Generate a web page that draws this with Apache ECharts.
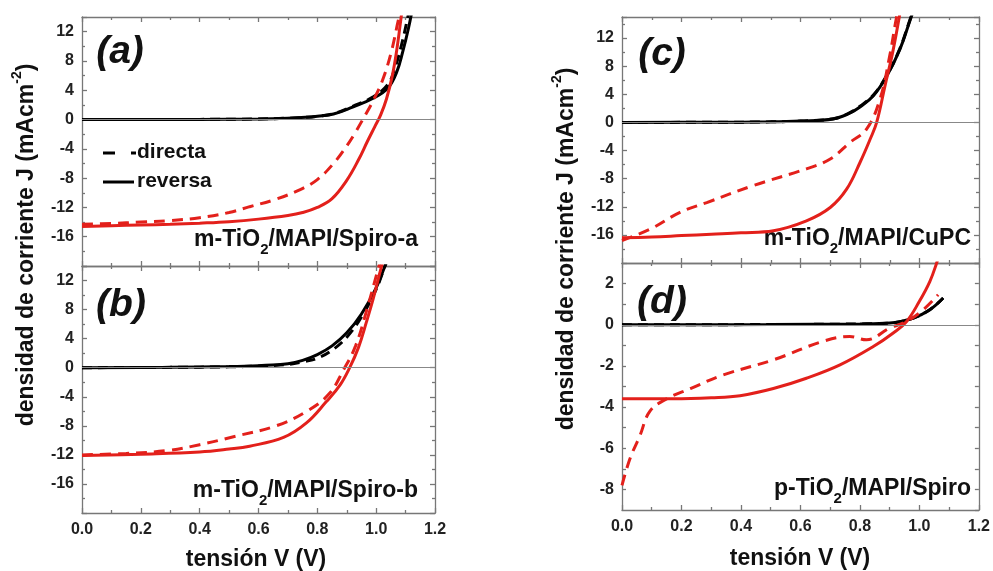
<!DOCTYPE html>
<html>
<head>
<meta charset="utf-8">
<title>Curvas J-V</title>
<script src="https://cdn.jsdelivr.net/npm/echarts@6.0.0/dist/echarts.min.js"></script>
<style>
  html, body { margin: 0; padding: 0; background: #fff; }
  #chart { width: 993px; height: 571px; }
</style>
</head>
<body>
<div id="chart"></div>
<script>
// tensión V (V) vs densidad de corriente J (mA/cm2)
// (a) m-TiO2/MAPI/Spiro-a
const aBlkRev = [[0,0],[0.4,0.02],[0.6,0.08],[0.7,0.18],[0.76,0.3],[0.8,0.45],[0.855,0.75],[0.92,1.7],[0.99,2.9],[1.04,4.3],[1.07,6.5],[1.09,9.2],[1.11,12.5],[1.125,15.5]];
const aBlkFwd = [[0,0],[0.4,0.02],[0.6,0.08],[0.7,0.18],[0.76,0.3],[0.8,0.45],[0.855,0.8],[0.92,1.8],[0.99,3.1],[1.04,4.8],[1.065,7.2],[1.085,10],[1.105,13.5],[1.115,15.5]];
const aRedFwd = [[0,-14.3],[0.1,-14.2],[0.2,-14.0],[0.3,-13.8],[0.4,-13.4],[0.5,-12.7],[0.57,-11.9],[0.65,-11.0],[0.74,-9.6],[0.8,-8.2],[0.855,-6.0],[0.9,-3.6],[0.93,-1.7],[0.96,0.4],[0.99,2.6],[1.02,5.2],[1.05,9],[1.075,13.5],[1.09,16]];
const aRedRev = [[0,-14.6],[0.1,-14.5],[0.2,-14.4],[0.3,-14.3],[0.4,-14.15],[0.5,-13.95],[0.6,-13.6],[0.7,-13.1],[0.75,-12.7],[0.8,-12.0],[0.85,-10.8],[0.9,-8.3],[0.94,-5.5],[0.97,-3.0],[0.995,-1.0],[1.015,0.6],[1.035,2.8],[1.055,6.0],[1.07,9.5],[1.085,14],[1.095,17]];

// (b) m-TiO2/MAPI/Spiro-b
const bBlkRev = [[0,0],[0.3,0.05],[0.5,0.15],[0.6,0.28],[0.7,0.55],[0.75,1.0],[0.8,1.8],[0.85,3.0],[0.9,4.8],[0.95,7.4],[1.0,11.0],[1.03,14],[1.05,16]];
const bBlkFwd = [[0,0],[0.3,0.05],[0.5,0.12],[0.6,0.22],[0.7,0.45],[0.75,0.8],[0.8,1.3],[0.85,2.4],[0.9,4.2],[0.95,7.0],[1.0,10.8],[1.03,14],[1.05,16]];
const bRedFwd = [[0,-12.0],[0.15,-11.8],[0.29,-11.4],[0.4,-10.6],[0.515,-9.5],[0.66,-8.0],[0.764,-6.0],[0.84,-3.6],[0.889,-0.3],[0.93,3.0],[0.967,7.8],[1.0,12.6],[1.02,15.5]];
const bRedRev = [[0,-12.1],[0.2,-11.9],[0.4,-11.6],[0.5,-11.2],[0.57,-10.8],[0.685,-9.6],[0.763,-7.6],[0.83,-4.7],[0.877,-2.4],[0.91,0],[0.94,2.8],[0.967,6.3],[0.99,9.5],[1.018,13.9],[1.03,15.5]];

// (c) m-TiO2/MAPI/CuPC
const cBlkRev = [[0,0],[0.3,0.02],[0.5,0.08],[0.6,0.2],[0.71,0.5],[0.76,1.2],[0.8,2.2],[0.845,3.8],[0.89,6.6],[0.934,10.4],[0.968,14.5],[0.98,16]];
const cBlkFwd = [[0,0],[0.3,0.02],[0.5,0.08],[0.6,0.2],[0.71,0.52],[0.76,1.25],[0.8,2.3],[0.845,3.9],[0.89,6.7],[0.934,10.5],[0.968,14.6],[0.98,16]];
const cRedFwd = [[0,-16.8],[0.094,-15.2],[0.195,-12.8],[0.285,-11.4],[0.44,-9.0],[0.62,-6.6],[0.70,-5.2],[0.766,-2.85],[0.822,-0.95],[0.867,3.3],[0.90,9.5],[0.923,15],[0.93,16]];
const cRedRev = [[0,-16.4],[0.1,-16.3],[0.2,-16.1],[0.3,-15.9],[0.4,-15.7],[0.509,-15.4],[0.62,-14.0],[0.7,-12.1],[0.755,-9.5],[0.8,-5.7],[0.834,-2.4],[0.856,0],[0.884,5.2],[0.91,10],[0.934,15.5]];

// (d) p-TiO2/MAPI/Spiro
const dBlkRev = [[0,0],[0.5,0.01],[0.8,0.04],[0.9,0.08],[0.98,0.33],[1.035,0.73],[1.08,1.3]];
const dBlkFwd = [[0,0],[0.5,0.01],[0.8,0.04],[0.9,0.08],[0.98,0.33],[1.035,0.73],[1.08,1.3]];
const dRedFwd = [[0,-7.8],[0.027,-6.5],[0.06,-5.4],[0.094,-4.2],[0.15,-3.6],[0.23,-3.1],[0.34,-2.44],[0.51,-1.7],[0.677,-0.8],[0.766,-0.57],[0.822,-0.73],[0.9,-0.16],[0.957,0.16],[1.013,0.73],[1.063,1.46]];
const dRedRev = [[0,-3.6],[0.173,-3.6],[0.3,-3.55],[0.397,-3.45],[0.509,-3.1],[0.62,-2.6],[0.733,-1.95],[0.845,-1.06],[0.912,-0.4],[0.957,0.16],[1.0,1.14],[1.035,2.1],[1.058,3.0],[1.07,3.6]];

const panelLabels = ['(a)', '(b)', '(c)', '(d)'];
const sampleNames = ['Spiro-a', 'Spiro-b', 'CuPC', 'Spiro'];
const legendNames = ['directa', 'reversa'];

const RED = '#e3201b';
const FONT = 'Liberation Sans, Arial, sans-serif';
const AXIS_COLOR = '#777';

const panels = [
  { grid: { left: 82, top: 17, width: 353, height: 249 }, yMin: -20, yMax: 14, yInt: 4, xLabels: false,
    data: [aBlkRev, aBlkFwd, aRedFwd, aRedRev] },
  { grid: { left: 82, top: 266, width: 353, height: 247 }, yMin: -20, yMax: 14, yInt: 4, xLabels: true,
    data: [bBlkRev, bBlkFwd, bRedFwd, bRedRev] },
  { grid: { left: 622, top: 17, width: 357, height: 246 }, yMin: -20, yMax: 15, yInt: 4, xLabels: false,
    data: [cBlkRev, cBlkFwd, cRedFwd, cRedRev] },
  { grid: { left: 622, top: 263, width: 357, height: 247 }, yMin: -9, yMax: 3, yInt: 1, xLabels: true,
    data: [dBlkRev, dBlkFwd, dRedFwd, dRedRev] }
];

const lineStyleAxis = { color: AXIS_COLOR, width: 1.3 };
const labelStyle = { color: '#222', fontSize: 16, fontWeight: 'bold', fontFamily: FONT };

let grids = [], xAxes = [], yAxes = [], series = [];

panels.forEach(function (p, i) {
  grids.push(p.grid);
  ['bottom', 'top'].forEach(function (pos) {
    xAxes.push({
      gridIndex: i, type: 'value', position: pos, min: 0, max: 1.2, interval: 0.2,
      axisLine: { show: true, onZero: false, lineStyle: lineStyleAxis },
      axisTick: { show: true, inside: true, length: 5, lineStyle: lineStyleAxis },
      minorTick: { show: true, splitNumber: 2, length: 3, lineStyle: lineStyleAxis },
      axisLabel: Object.assign({ show: pos === 'bottom' && p.xLabels, margin: 9,
        formatter: function (v) { return v.toFixed(1); } }, labelStyle),
      splitLine: { show: false }
    });
  });
  ['left', 'right'].forEach(function (pos) {
    const isD = p.yInt === 1;
    yAxes.push({
      gridIndex: i, type: 'value', position: pos, min: p.yMin, max: p.yMax, interval: p.yInt,
      axisLine: { show: true, onZero: false, lineStyle: lineStyleAxis },
      axisTick: { show: true, inside: true, length: isD ? 4 : 5, lineStyle: lineStyleAxis },
      minorTick: { show: !isD, splitNumber: 2, length: 3, lineStyle: lineStyleAxis },
      axisLabel: Object.assign({ show: pos === 'left', margin: 8, showMaxLabel: false, showMinLabel: false,
        formatter: function (v) { return (isD && v % 2 !== 0) ? '' : String(v); } }, labelStyle),
      splitLine: { show: false }
    });
  });

  const styles = [
    { color: '#000', type: 'solid' },
    { color: '#000', type: [10, 6] },
    { color: RED, type: [11, 7] },
    { color: RED, type: 'solid' }
  ];
  p.data.forEach(function (d, k) {
    const s = {
      type: 'line', xAxisIndex: i * 2, yAxisIndex: i * 2, data: d,
      showSymbol: false, smooth: 0.4, clip: true,
      lineStyle: { color: styles[k].color, width: 3, type: styles[k].type },
      z: k < 2 ? 3 : 4
    };
    if (k === 0) {
      s.markLine = { silent: true, symbol: 'none', label: { show: false },
        lineStyle: { color: '#888', width: 1, type: 'solid' }, data: [{ yAxis: 0 }] };
    }
    series.push(s);
  });
});

// textos
const mainTok = { fontSize: 23, fontWeight: 'bold', fontFamily: FONT, fill: '#111', lineHeight: 34 };
const subTok = { fontSize: 15, fontWeight: 'bold', fontFamily: FONT, fill: '#111', lineHeight: 8, verticalAlign: 'bottom' };
const supTok = { fontSize: 14, fontWeight: 'bold', fontFamily: FONT, fill: '#111', lineHeight: 8, verticalAlign: 'top' };

function sampleText(prefix, name, x, y) {
  return {
    type: 'text', x: x, y: y,
    style: {
      text: '{m|' + prefix + '-TiO}{s|2}{m|/MAPI/' + name + '}',
      rich: { m: mainTok, s: subTok },
      align: 'right', verticalAlign: 'middle'
    }
  };
}

function panelLabel(t, x, y) {
  return { type: 'text', x: x, y: y,
    style: { text: t, font: 'italic bold 39px ' + FONT, fill: '#111', align: 'center', verticalAlign: 'middle' } };
}

function yTitle(x, y) {
  return { type: 'text', x: x, y: y, rotation: Math.PI / 2,
    style: { text: '{m|densidad de corriente J (mAcm}{p|-2}{m|)}', rich: { m: mainTok, p: supTok },
      align: 'center', verticalAlign: 'middle' } };
}

function xTitle(x, y) {
  return { type: 'text', x: x, y: y,
    style: { text: 'tensión V (V)', font: 'bold 23px ' + FONT, fill: '#111', align: 'center', verticalAlign: 'middle' } };
}

const graphics = [
  panelLabel(panelLabels[0], 120, 52),
  panelLabel(panelLabels[1], 121, 305),
  panelLabel(panelLabels[2], 662, 54),
  panelLabel(panelLabels[3], 662, 302),
  sampleText('m', sampleNames[0], 418, 240),
  sampleText('m', sampleNames[1], 418, 491),
  sampleText('m', sampleNames[2], 971, 239),
  sampleText('p', sampleNames[3], 971, 489),
  yTitle(27, 245),
  yTitle(567, 249),
  xTitle(256, 560),
  xTitle(800, 559),
  // leyenda
  { type: 'line', shape: { x1: 103, y1: 153, x2: 136, y2: 153 },
    style: { stroke: '#000', lineWidth: 3, lineDash: [12, 16] } },
  { type: 'line', shape: { x1: 103, y1: 182, x2: 134, y2: 182 },
    style: { stroke: '#000', lineWidth: 3 } },
  { type: 'text', x: 137, y: 152,
    style: { text: legendNames[0], font: 'bold 21px ' + FONT, fill: '#111', verticalAlign: 'middle' } },
  { type: 'text', x: 137, y: 181,
    style: { text: legendNames[1], font: 'bold 21px ' + FONT, fill: '#111', verticalAlign: 'middle' } }
];

const chart = echarts.init(document.getElementById('chart'));
chart.setOption({
  animation: false,
  backgroundColor: '#fff',
  grid: grids,
  xAxis: xAxes,
  yAxis: yAxes,
  series: series,
  graphic: graphics
});
</script>
</body>
</html>
